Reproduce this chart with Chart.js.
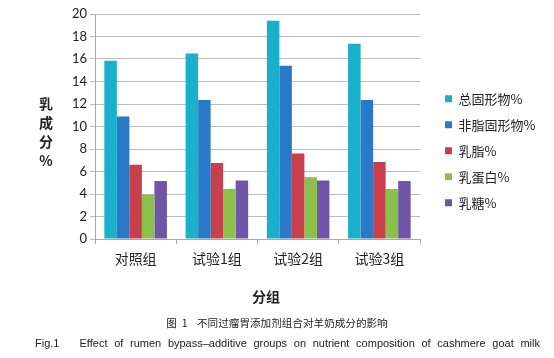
<!DOCTYPE html>
<html>
<head>
<meta charset="utf-8">
<script src="https://cdn.jsdelivr.net/npm/chart.js@4.4.0/dist/chart.umd.min.js"></script>
<style>
  html, body { margin: 0; padding: 0; background: #ffffff; }
  #wrap { position: relative; width: 554px; height: 358px; overflow: hidden; }
  #c { position: absolute; left: 0; top: 0; }
  .txt { position: absolute; white-space: nowrap; color: #222; }
  .cjk { font-family: "Noto Sans CJK SC", sans-serif; }
  #ytitle { left: 37px; top: 94px; width: 18px; font-size: 14px; font-weight: bold; line-height: 19px; text-align: center; }
  #xtitle { left: 236px; top: 286px; width: 60px; font-size: 14px; font-weight: bold; text-align: center; line-height: 20px; }
  #cap1 { left: 0; top: 315px; width: 554px; text-align: center; font-size: 10.6px; line-height: 16px; }
  #cap2 { left: 35px; top: 335px; width: 505px; font-family: "Liberation Sans", Arial, sans-serif; font-size: 11px; line-height: 16px;
          text-align: justify; text-align-last: justify; white-space: normal; }
</style>
</head>
<body>
<div id="wrap">
  <canvas id="c" width="554" height="358"></canvas>
  <div id="ytitle" class="txt cjk">乳<br>成<br>分<br>%</div>
  <div id="xtitle" class="txt cjk">分组</div>
  <div id="cap1" class="txt cjk">图&nbsp;&nbsp;1&nbsp;&nbsp;&nbsp;&nbsp;不同过瘤胃添加剂组合对羊奶成分的影响</div>
  <div id="cap2" class="txt">Fig.1 &nbsp; Effect of rumen bypass–additive groups on nutrient composition of cashmere goat milk</div>
</div>
<script>
// ---- data ----
const categories = ["对照组", "试验1组", "试验2组", "试验3组"];
const seriesNames = ["总固形物%", "非脂固形物%", "乳脂%", "乳蛋白%", "乳糖%"];
const totalSolids   = [15.85, 16.5, 19.4, 17.35];
const nonFatSolids  = [10.9, 12.35, 15.4, 12.35];
const milkFat       = [6.6, 6.75, 7.6, 6.85];
const milkProtein   = [3.95, 4.45, 5.5, 4.45];
const lactose       = [5.15, 5.2, 5.2, 5.15];
const yTicks = [0, 2, 4, 6, 8, 10, 12, 14, 16, 18, 20];

const seriesValues = [totalSolids, nonFatSolids, milkFat, milkProtein, lactose];
const colors = ["#1aafcb", "#2a78c8", "#c8404c", "#8cc04c", "#6f54a8"];

const CHART_RIGHT = 420;   // desired right edge of the plot area
const LEGEND_GAP = 12;     // extra gap between plot and legend

const legendShift = {
  id: "legendShift",
  beforeLayout(chart) {
    // nothing
  },
  afterLayout(chart) {
    const lg = chart.legend;
    if (lg) { lg.left += LEGEND_GAP; lg.right += LEGEND_GAP; }
  }
};

function build() {
  const datasets = seriesNames.map((name, i) => ({
    label: name,
    data: seriesValues[i],
    backgroundColor: colors[i],
    borderWidth: 0,
    categoryPercentage: 0.77,
    barPercentage: 1.0
  }));

  const cfg = {
    type: "bar",
    data: { labels: categories, datasets },
    plugins: [legendShift],
    options: {
      responsive: false,
      animation: false,
      layout: { padding: { top: 14, right: 0, bottom: 89, left: 0 } },
      plugins: {
        tooltip: { enabled: false },
        legend: {
          position: "right",
          align: "center",
          title: { display: true, text: "", padding: { top: 4, bottom: 0 }, font: { size: 12 } },
          labels: {
            boxWidth: 7,
            boxHeight: 7,
            padding: 13,
            color: "#222",
            font: { family: "'Noto Sans CJK SC'", size: 13 }
          }
        }
      },
      scales: {
        x: {
          afterFit: (s) => { s.height = 30; },
          grid: { drawOnChartArea: false, drawTicks: true, tickLength: 5, color: "#a8a8a8", offset: true },
          border: { display: true, color: "#a8a8a8" },
          ticks: { padding: 6, color: "#222", font: { family: "'Noto Sans CJK SC'", size: 14 } }
        },
        y: {
          min: 0,
          max: 20,
          afterFit: (s) => { s.width = 95; },
          afterBuildTicks: (s) => { s.ticks = yTicks.map(v => ({ value: v })); },
          grid: { color: "#bcbcbc", tickLength: 5, drawTicks: true },
          border: { display: true, color: "#a8a8a8" },
          ticks: { padding: 3, color: "#222", font: { family: "Lato", size: 13 } }
        }
      }
    }
  };
  const chart = new Chart(document.getElementById("c"), cfg);
  // adjust right padding so that the plot area ends at CHART_RIGHT
  const extra = chart.chartArea.right - CHART_RIGHT;
  if (Math.abs(extra) > 0.5) {
    chart.options.layout.padding.right = Math.max(0, extra);
    chart.update();
  }
}

Promise.all([
  document.fonts.load("13px 'Noto Sans CJK SC'", "总固形物非脂乳蛋白糖%"),
  document.fonts.load("14px 'Noto Sans CJK SC'", "对照组试验123"),
  document.fonts.load("13px Lato", "0123456789")
]).then(build, build);
</script>
</body>
</html>
